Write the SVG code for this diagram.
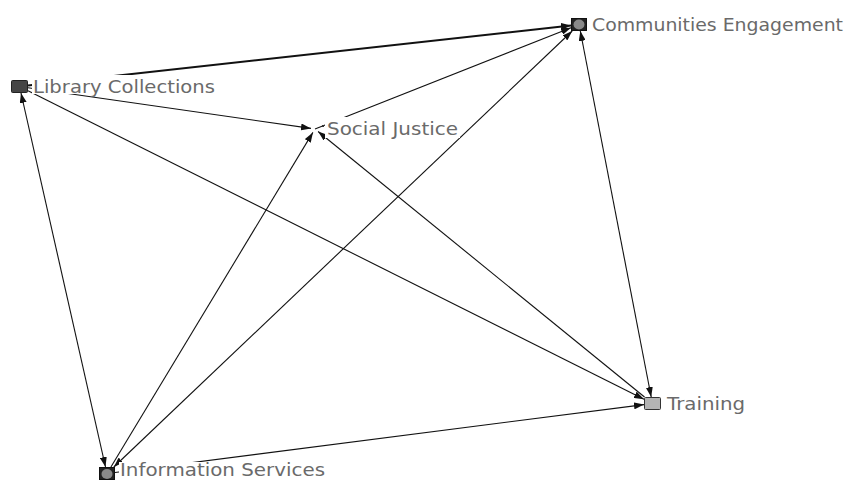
<svg xmlns="http://www.w3.org/2000/svg" width="857" height="480" viewBox="0 0 857 480">
  <defs>
    <marker id="arr" viewBox="0 0 10 7" refX="10" refY="3.5" markerUnits="userSpaceOnUse" markerWidth="10" markerHeight="7" orient="auto-start-reverse">
      <path d="M0,0 L10,3.5 L0,7 z" fill="#111"/>
    </marker>
    <style>
      .e { stroke: #111; stroke-width: 1.1; fill: none; marker-end: url(#arr); }
      .both { marker-start: url(#arr); }
      .thick { stroke-width: 2; }
      .lbl { font-family: "DejaVu Sans", Verdana, sans-serif; font-size: 17.5px; fill: #6a6a6a; }
      .bg { fill: #ffffff; }
      .dark { fill: #222; stroke: #111; stroke-width: 1; }
      .inner { fill: #8a8a8a; }
    </style>
  </defs>
  <rect width="857" height="480" fill="#ffffff"/>
  <g id="connectors">
    <line class="e thick" x1="28" y1="85.6" x2="571" y2="25.4"/>
    <line class="e" x1="315" y1="129" x2="571" y2="27.7"/>
    <line class="e both" x1="113.8" y1="467" x2="572.2" y2="31"/>
    <line class="e both" x1="580.3" y1="31" x2="651.2" y2="397"/>
    <line class="e both" x1="21" y1="93" x2="105.5" y2="467"/>
    <line class="e" x1="28" y1="87.7" x2="311" y2="128.4"/>
    <line class="e" x1="28" y1="90.8" x2="644" y2="399.2"/>
    <line class="e" x1="110.9" y1="467" x2="312.9" y2="132.4"/>
    <line class="e" x1="644.5" y1="397" x2="318.1" y2="131.5"/>
    <line class="e" x1="115" y1="472.5" x2="644" y2="404.6"/>
  </g>
  <g id="node-communities-engagement">
    <rect class="bg" x="590" y="13" width="255" height="22"/>
    <rect class="dark" x="571.5" y="18.5" width="15" height="12"/>
    <ellipse class="inner" cx="579" cy="24.5" rx="5.5" ry="5"/>
    <text class="lbl" x="592" y="31" textLength="251" lengthAdjust="spacingAndGlyphs">Communities Engagement</text>
  </g>
  <g id="node-library-collections">
    <rect class="bg" x="32" y="75" width="184" height="19"/>
    <rect x="11.5" y="80.5" width="16" height="12" rx="1" fill="#454545" stroke="#222"/>
    <text class="lbl" x="33" y="93" textLength="182" lengthAdjust="spacingAndGlyphs">Library Collections</text>
  </g>
  <g id="node-social-justice">
    <rect class="bg" x="325" y="117" width="135" height="21"/>
    <rect x="322" y="125" width="2" height="2" fill="#333"/>
    <text class="lbl" x="327" y="135" textLength="131" lengthAdjust="spacingAndGlyphs">Social Justice</text>
  </g>
  <g id="node-training">
    <rect class="bg" x="665" y="392" width="82" height="22"/>
    <rect x="644.5" y="397.5" width="16" height="12" rx="1" fill="#b4b4b4" stroke="#333"/>
    <text class="lbl" x="667" y="410" textLength="78" lengthAdjust="spacingAndGlyphs">Training</text>
  </g>
  <g id="node-information-services">
    <rect class="bg" x="119" y="462" width="208" height="18"/>
    <rect class="dark" x="99.5" y="467.5" width="15" height="12"/>
    <ellipse class="inner" cx="107" cy="474" rx="5.5" ry="5"/>
    <text class="lbl" x="120" y="475.5" textLength="205" lengthAdjust="spacingAndGlyphs">Information Services</text>
  </g>
</svg>
